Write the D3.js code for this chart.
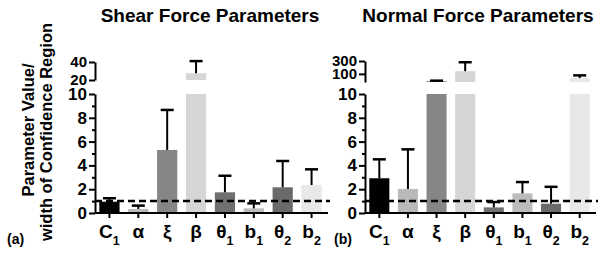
<!DOCTYPE html>
<html>
<head>
<meta charset="utf-8">
<script src="https://cdn.jsdelivr.net/npm/d3@7"></script>
<style>
  body { margin: 0; background: #fff; }
  svg { display: block; font-family: "Liberation Sans", Arial, sans-serif; font-weight: bold; }
  .axis path, .axis line { stroke: #000; stroke-width: 2; }
  .axis text { font-size: 17px; font-weight: bold; fill: #000; font-family: "Liberation Sans", Arial, sans-serif; }
  .axis.up text { font-size: 15px; }
</style>
</head>
<body>
<svg id="chart"></svg>
<script>
// parameter names (trailing digit = subscript)
const params = ["C1", "α", "ξ", "β", "θ1", "b1", "θ2", "b2"];
const barColors = ["#000000", "#b9b9b9", "#868686", "#d6d6d6", "#707070", "#bcbcbc", "#6a6a6a", "#e8e8e8"];

// shear force panel: value and top of error bar
const shearValues = [0.95, 0.34, 5.3, 27.5, 1.74, 0.39, 2.16, 2.35];
const shearUpper = [1.24, 0.62, 8.66, 41, 3.13, 0.81, 4.37, 3.67];

// normal force panel
const normalValues = [2.92, 2.02, 54, 126, 0.47, 1.65, 0.78, 70];
const normalUpper = [4.51, 5.35, 56, 270, 0.92, 2.6, 2.2, 88];

const lowerTicks = [0, 1, 2, 3, 4, 5, 6, 7, 8, 9, 10];
const shearUpperTicks = [20, 40];
const normalUpperTicks = [100, 300];
const threshold = 1;

const W = 604, H = 262;
const svg = d3.select('#chart').attr('width', W).attr('height', H);

// y title
const yTitle = svg.append('g').attr('font-size', 16.5);
yTitle.append('text')
    .attr('transform', 'translate(34,130) rotate(-90)')
    .attr('text-anchor', 'middle')
    .text('Parameter Value/');
yTitle.append('text')
    .attr('transform', 'translate(52,132) rotate(-90)')
    .attr('text-anchor', 'middle')
    .text('width of Confidence Region');

function drawPanel(cfg) {
    const yLow = d3.scaleLinear().domain([0, 10]).range([213, 94]);
    const yUp = cfg.upperScale;
    const upBottom = yUp.range()[0];

    const x = d3.scaleBand()
        .domain(params)
        .range([cfg.x0, cfg.x1])
        .paddingInner(0.3)
        .paddingOuter(0.15);

    const g = svg.append('g');

    g.append('text')
        .attr('x', cfg.titleX)
        .attr('y', 22)
        .attr('text-anchor', 'middle')
        .attr('font-size', 19)
        .text(cfg.title);

    g.append('text')
        .attr('x', cfg.tagX)
        .attr('y', 244)
        .attr('font-size', 14)
        .text(cfg.tag);

    // bars
    const data = params.map((p, i) => ({ p, v: cfg.values[i], up: cfg.upper[i], c: barColors[i] }));

    g.selectAll('rect.low')
        .data(data)
        .join('rect')
        .attr('class', 'low')
        .attr('x', d => x(d.p))
        .attr('width', x.bandwidth())
        .attr('y', d => yLow(Math.min(d.v, 10)))
        .attr('height', d => yLow(0) - yLow(Math.min(d.v, 10)))
        .attr('fill', d => d.c);

    g.selectAll('rect.high')
        .data(data.filter(d => d.v > 10))
        .join('rect')
        .attr('class', 'high')
        .attr('x', d => x(d.p))
        .attr('width', x.bandwidth())
        .attr('y', d => yUp(d.v))
        .attr('height', d => upBottom - yUp(d.v))
        .attr('fill', d => d.c);

    // error bars (upper whisker only)
    const yOf = v => v > 10 ? yUp(v) : yLow(v);
    const err = g.selectAll('g.err')
        .data(data)
        .join('g')
        .attr('class', 'err');
    err.append('line')
        .attr('x1', d => x(d.p) + x.bandwidth() / 2)
        .attr('x2', d => x(d.p) + x.bandwidth() / 2)
        .attr('y1', d => yOf(d.v))
        .attr('y2', d => yOf(d.up))
        .attr('stroke', '#000')
        .attr('stroke-width', 2);
    err.append('line')
        .attr('x1', d => x(d.p) + x.bandwidth() / 2 - 6.5)
        .attr('x2', d => x(d.p) + x.bandwidth() / 2 + 6.5)
        .attr('y1', d => yOf(d.up))
        .attr('y2', d => yOf(d.up))
        .attr('stroke', '#000')
        .attr('stroke-width', 2.5);

    // dashed threshold
    g.append('line')
        .attr('x1', cfg.x0)
        .attr('x2', cfg.x1 + 4)
        .attr('y1', yLow(threshold))
        .attr('y2', yLow(threshold))
        .attr('stroke', '#000')
        .attr('stroke-width', 2.5)
        .attr('stroke-dasharray', '7,4');

    // x axis
    const xAxisG = g.append('g')
        .attr('class', 'axis')
        .attr('transform', `translate(0,${yLow(0)})`)
        .call(d3.axisBottom(x).tickSize(5).tickSizeOuter(0).tickFormat(''));
    xAxisG.select('.domain').attr('d', `M${cfg.x0},0H${cfg.x1 + 2}`);

    const lab = g.selectAll('text.xlab')
        .data(params)
        .join('text')
        .attr('class', 'xlab')
        .attr('x', d => x(d) + x.bandwidth() / 2)
        .attr('y', 238)
        .attr('text-anchor', 'middle')
        .attr('font-size', 19);
    lab.append('tspan').text(d => d.replace(/\d$/, ''));
    lab.append('tspan')
        .attr('dy', 7)
        .attr('font-size', 12.5)
        .text(d => (d.match(/\d$/) || [''])[0]);

    // lower y axis
    const yAxisLow = g.append('g')
        .attr('class', 'axis')
        .attr('transform', `translate(${cfg.x0},0)`)
        .call(d3.axisLeft(yLow).tickValues(lowerTicks).tickSize(6).tickSizeOuter(0).tickPadding(2));
    yAxisLow.selectAll('.tick')
        .filter(d => d % 2 === 1)
        .each(function () {
            d3.select(this).select('line').attr('x2', -3);
            d3.select(this).select('text').remove();
        });

    // upper y axis segment
    g.append('g')
        .attr('class', 'axis up')
        .attr('transform', `translate(${cfg.x0},0)`)
        .call(d3.axisLeft(yUp).tickValues(cfg.upperTicks).tickSize(6).tickSizeOuter(0).tickPadding(2)
            .tickFormat(d3.format('d')));
}

drawPanel({
    title: 'Shear Force Parameters', titleX: 210, tag: '(a)', tagX: 7,
    x0: 95, x1: 326,
    values: shearValues, upper: shearUpper, upperTicks: shearUpperTicks,
    upperScale: d3.scaleLinear().domain([20, 40]).range([80, 62])
});

drawPanel({
    title: 'Normal Force Parameters', titleX: 478, tag: '(b)', tagX: 334,
    x0: 365, x1: 594,
    values: normalValues, upper: normalUpper, upperTicks: normalUpperTicks,
    upperScale: d3.scaleLog().domain([50, 300]).range([82, 61])
});
</script>
</body>
</html>
